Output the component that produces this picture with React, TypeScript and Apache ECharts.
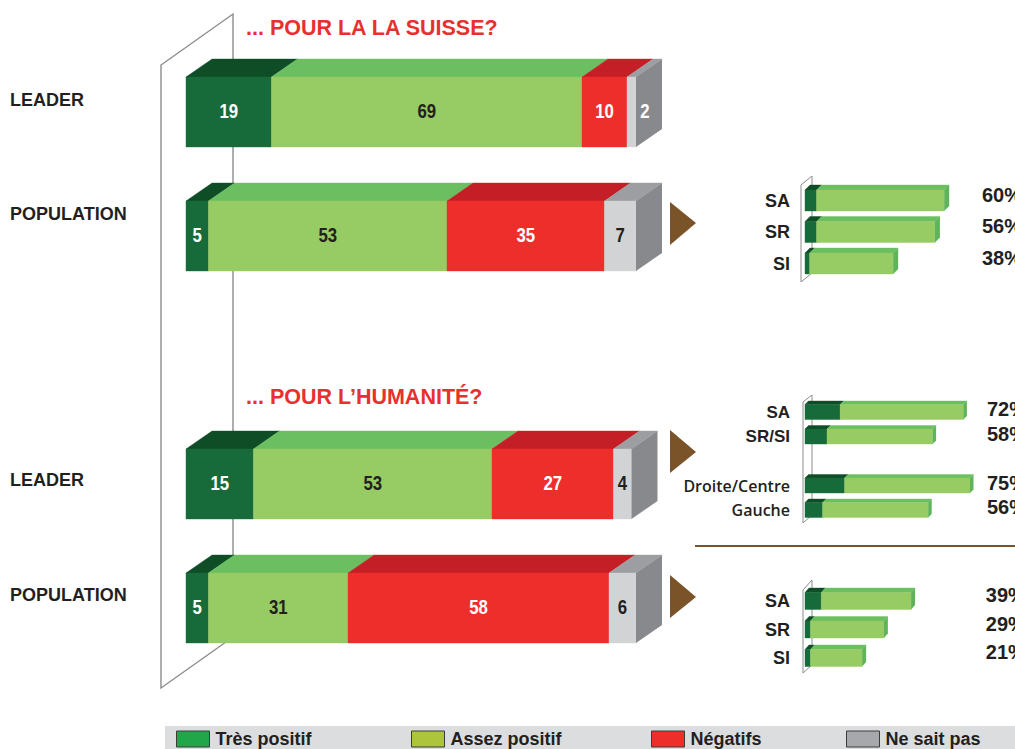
import React, { useEffect, useRef } from 'react';
import * as echarts from 'echarts';

const SANS = "'Liberation Sans', Arial, 'DejaVu Sans', sans-serif";
const INK = '#231f20';

// ---------- data ----------
const rowKeys = ['suisse-leader', 'suisse-population', 'gap', 'humanite-leader', 'humanite-population'];
const rowLabels = ['LEADER', 'POPULATION', '', 'LEADER', 'POPULATION'];
const sectionTitles = ['... POUR LA LA SUISSE?', '... POUR L\u2019HUMANITÉ?'];
const seriesNames = ['Très positif', 'Assez positif', 'Négatifs', 'Ne sait pas'];
const tresPositif = [19, 5, null, 15, 5];
const assezPositif = [69, 53, null, 53, 31];
const negatifs = [10, 35, null, 27, 58];
const neSaitPas = [2, 7, null, 4, 6];

// breakdowns (Très positif + Assez positif)
const g1Labels = ['SA', 'SR', 'SI'];
const g1Tres = [5, 5, 2];
const g1Assez = [55, 51, 36];
const g2Labels = ['SA', 'SR/SI', '', 'Droite/Centre', 'Gauche'];
const g2Tres = [16, 10, null, 18, 8];
const g2Assez = [56, 48, null, 57, 48];
const g3Labels = ['SA', 'SR', 'SI'];
const g3Tres = [6, 2, 2];
const g3Assez = [33, 27, 19];

// ---------- styles ----------
const legendColors = ['#22a64a', '#adc53b', '#ee2e2b', '#a7a8ab'];
const frontColors = ['#176b3a', '#97cb63', '#ee2e2b', '#d2d3d5'];
const topColors = ['#0f4d27', '#6cbf61', '#c41f27', '#9d9ea1'];
const labelColors = ['#ffffff', INK, '#ffffff', INK];
const SIDE_GRAY = '#88898c';
const SIDE_GREEN = '#5fb45a';
const BROWN = '#7a5329';

type Cfg = { h: number; dx: number; dy: number; front: string; top: string; side?: string | null; label?: boolean; labelColor?: string };

function bar3D(cfg: Cfg) {
  return (params: any, api: any) => {
    const s = api.value(0), e = api.value(1), r = api.value(2), v = api.value(3);
    const a = api.coord([s, r]);
    const b = api.coord([e, r]);
    const h = cfg.h;
    const x0 = a[0], x1 = b[0];
    const y0 = a[1] - h / 2, y1 = y0 + h;
    const children: any[] = [
      { type: 'polygon', shape: { points: [[x0, y0], [x1, y0], [x1 + cfg.dx, y0 - cfg.dy], [x0 + cfg.dx, y0 - cfg.dy]] }, style: { fill: cfg.top, stroke: cfg.top, lineWidth: 0.4 } },
      { type: 'rect', shape: { x: x0, y: y0, width: x1 - x0, height: h }, style: { fill: cfg.front, stroke: cfg.front, lineWidth: 0.4 } },
    ];
    if (cfg.side) {
      children.push({ type: 'polygon', shape: { points: [[x1, y0], [x1 + cfg.dx, y0 - cfg.dy], [x1 + cfg.dx, y1 - cfg.dy], [x1, y1]] }, style: { fill: cfg.side } });
    }
    if (cfg.label) {
      const narrow = x1 - x0 < 14;
      children.push({
        type: 'text',
        x: narrow ? x1 + 9 : (x0 + x1) / 2,
        y: (y0 + y1) / 2 - 1,
        scaleX: 0.8,
        style: {
          text: String(v), x: 0, y: 0,
          align: 'center', verticalAlign: 'middle', fill: narrow ? '#ffffff' : cfg.labelColor,
          fontSize: 21, fontWeight: 'bold', fontFamily: SANS,
        },
      });
    }
    return { type: 'group', children };
  };
}

function stacked(cols: (number | null)[][]) {
  return cols.map((col, k) =>
    col
      .map((v, r) => {
        if (v == null) return null;
        let s = 0;
        for (let j = 0; j < k; j++) s += cols[j][r] ?? 0;
        return [s, s + v, r, v];
      })
      .filter((d) => d !== null)
  );
}

const mainData = stacked([tresPositif, assezPositif, negatifs, neSaitPas]);

const groups = [
  { labels: g1Labels, tres: g1Tres, assez: g1Assez, grid: { left: 805, top: 184.75, width: 174, height: 94.5 }, max: 75, h: 21, d: 5, dy: 5, pctMargin: 3, pctShift: 12, labelFont: 18 },
  { labels: g2Labels, tres: g2Tres, assez: g2Assez, grid: { left: 805, top: 399.75, width: 176, height: 122.5 }, max: 80, h: 15, d: 3.5, dy: 3.5, pctMargin: 6, pctShift: 6, labelFont: 17 },
  { labels: g3Labels, tres: g3Tres, assez: g3Assez, grid: { left: 805, top: 586.75, width: 176.8, height: 85.5 }, max: 65, h: 17, d: 4, dy: 4.5, pctMargin: 4, pctShift: 12, labelFont: 18 },
];

function buildOption() {
  const grid: any[] = [{ left: 186, top: 50, width: 450, height: 620, outerBoundsMode: 'none', containLabel: false }];
  const xAxis: any[] = [{ type: 'value', gridIndex: 0, min: 0, max: 100, show: false }];
  const rowRich: any = {};
  const rowPad = [24, 44, 0, 8, 26];
  rowPad.forEach((p, i) => {
    rowRich['r' + i] = { fontSize: 18, fontWeight: 'bold', fontFamily: SANS, color: INK, padding: [0, 0, p, 0] };
  });
  const yAxis: any[] = [
    {
      type: 'category', gridIndex: 0, inverse: true, data: rowKeys,
      axisLine: { show: false }, axisTick: { show: false }, splitLine: { show: false },
      axisLabel: {
        margin: 176, align: 'left',
        formatter: (v: string) => { const i = rowKeys.indexOf(v); return rowLabels[i] ? `{r${i}|${rowLabels[i]}}` : ''; },
        rich: rowRich,
      },
    },
  ];
  const series: any[] = mainData.map((data, k) => ({
    type: 'custom', name: seriesNames[k], xAxisIndex: 0, yAxisIndex: 0,
    itemStyle: { color: legendColors[k] },
    encode: { x: [0, 1], y: 2 },
    renderItem: bar3D({ h: 70, dx: 26, dy: 18, front: frontColors[k], top: topColors[k], side: k === 3 ? SIDE_GRAY : null, label: true, labelColor: labelColors[k] }),
    data,
  }));

  groups.forEach((g, gi) => {
    const gIdx = gi + 1;
    grid.push({ ...g.grid, outerBoundsMode: 'none', containLabel: false });
    xAxis.push({ type: 'value', gridIndex: gIdx, min: 0, max: g.max, show: false });
    const keys = g.labels.map((l, i) => `${l}#${i}`);
    const leftRich: any = {
      b: { fontSize: g.labelFont, fontWeight: 'bold', fontFamily: SANS, color: INK },
      m: { fontSize: 16, fontWeight: 600, fontFamily: "'Open Sans', 'Noto Sans', sans-serif", color: INK },
    };
    yAxis.push({
      type: 'category', gridIndex: gIdx, inverse: true, data: keys,
      axisLine: { show: false }, axisTick: { show: false },
      axisLabel: {
        margin: 15,
        formatter: (v: string) => { const l = g.labels[keys.indexOf(v)]; if (!l) return ''; return l.length > 5 ? `{m|${l}}` : `{b|${l}}`; },
        rich: leftRich,
      },
    });
    yAxis.push({
      type: 'category', gridIndex: gIdx, inverse: true, position: 'right', data: keys,
      axisLine: { show: false }, axisTick: { show: false },
      axisLabel: {
        margin: g.pctMargin, align: 'left',
        formatter: (v: string) => { const i = keys.indexOf(v); if (g.tres[i] == null) return ''; return `{p|${(g.tres[i] as number) + (g.assez[i] as number)}%}`; },
        rich: { p: { fontSize: 20, fontWeight: 'bold', fontFamily: SANS, color: INK, padding: [0, 0, g.pctShift, 0] } },
      },
    });
    const [dTres, dAssez] = stacked([g.tres, g.assez]);
    const yIdx = gi * 2 + 1;
    series.push({
      type: 'custom', name: `détail ${gIdx} très positif`, xAxisIndex: gIdx, yAxisIndex: yIdx, encode: { x: [0, 1], y: 2 },
      renderItem: bar3D({ h: g.h, dx: g.d, dy: g.dy, front: frontColors[0], top: topColors[0] }), data: dTres,
    });
    series.push({
      type: 'custom', name: `détail ${gIdx} assez positif`, xAxisIndex: gIdx, yAxisIndex: yIdx, encode: { x: [0, 1], y: 2 },
      renderItem: bar3D({ h: g.h, dx: g.d, dy: g.dy, front: frontColors[1], top: topColors[1], side: SIDE_GREEN }), data: dAssez,
    });
  });

  const wallStyle = { stroke: '#8c8c8c', lineWidth: 1.4, fill: 'none' };
  const graphic: any[] = [
    // legend band
    { type: 'rect', shape: { x: 165, y: 726, width: 850, height: 30 }, style: { fill: '#dcdddf' }, z: -10 },
    // main perspective wall
    { type: 'polyline', shape: { points: [[233, 637], [161, 688], [161, 65], [233, 14], [233, 637]] }, style: wallStyle },
    // small walls
    { type: 'polyline', shape: { points: [[812, 273], [801, 282], [801, 185], [812, 176], [812, 273]] }, style: { ...wallStyle, lineWidth: 1 } },
    { type: 'polyline', shape: { points: [[812, 515], [803, 523], [803, 402], [812, 395], [812, 515]] }, style: { ...wallStyle, lineWidth: 1 } },
    { type: 'polyline', shape: { points: [[812, 665], [803, 673], [803, 590], [812, 580], [812, 665]] }, style: { ...wallStyle, lineWidth: 1 } },
    // arrows
    { type: 'polygon', shape: { points: [[670, 202], [696, 223], [670, 245]] }, style: { fill: BROWN } },
    { type: 'polygon', shape: { points: [[670, 430], [696, 452], [670, 473]] }, style: { fill: BROWN } },
    { type: 'polygon', shape: { points: [[670, 575], [696, 597], [670, 618]] }, style: { fill: BROWN } },
    // divider
    { type: 'line', shape: { x1: 695, y1: 546, x2: 1015, y2: 546 }, style: { stroke: BROWN, lineWidth: 2 } },
    // titles
    { type: 'text', x: 246, y: 28, style: { text: sectionTitles[0], fill: '#e8302e', fontSize: 21.5, fontWeight: 'bold', fontFamily: SANS, verticalAlign: 'middle' } },
    { type: 'text', x: 246, y: 397, style: { text: sectionTitles[1], fill: '#e8302e', fontSize: 21.5, fontWeight: 'bold', fontFamily: SANS, verticalAlign: 'middle' } },
  ];

  const legendLefts = [176, 411, 651, 846];
  const legend = seriesNames.map((n, k) => ({
    left: legendLefts[k], top: 730, padding: 0, itemWidth: 33, itemHeight: 16, itemGap: 0, selectedMode: false,
    icon: 'rect',
    data: [{ name: n, itemStyle: { color: legendColors[k], borderColor: '#3c3c3c', borderWidth: 1 } }],
    textStyle: { fontSize: 18, lineHeight: 17, fontWeight: 'bold', fontFamily: SANS, color: INK, padding: [0, 0, 0, 1] },
  }));

  return { animation: false, backgroundColor: '#ffffff', grid, xAxis, yAxis, series, graphic, legend };
}

export default function App() {
  const ref = useRef<HTMLDivElement>(null);
  useEffect(() => {
    const chart = echarts.init(ref.current as HTMLDivElement, null, { renderer: 'svg' });
    chart.setOption(buildOption() as any);
    return () => chart.dispose();
  }, []);
  return <div ref={ref} style={{ position: 'absolute', left: 0, top: 0, width: 1015, height: 749, background: '#fff' }} />;
}
